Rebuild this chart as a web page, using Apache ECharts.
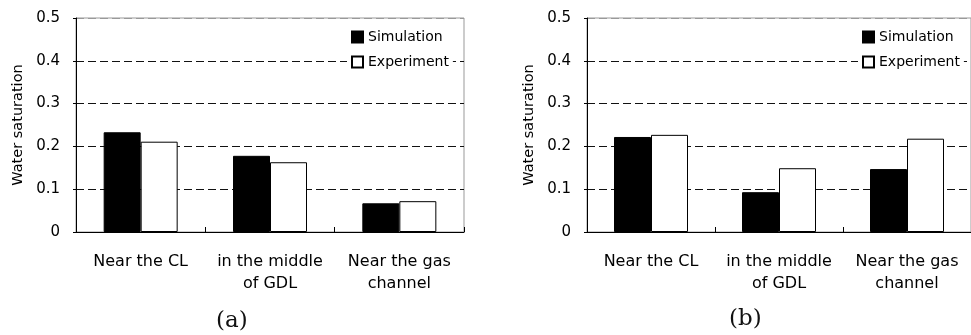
<!DOCTYPE html>
<html>
<head>
<meta charset="utf-8">
<script src="https://cdn.jsdelivr.net/npm/echarts@6/dist/echarts.min.js"></script>
<style>html,body{margin:0;padding:0;background:#fff;}#c{width:971px;height:335px;}</style>
</head>
<body>
<div id="c"></div>
<script>
const categories = ['Near the CL', 'in the middle\nof GDL', 'Near the gas\nchannel'];
const simulationA = [0.233, 0.178, 0.067];
const experimentA = [0.211, 0.163, 0.072];
const simulationB = [0.222, 0.093, 0.147];
const experimentB = [0.227, 0.149, 0.218];
const yTicks = [0, 0.1, 0.2, 0.3, 0.4, 0.5];
const captions = ['(a)', '(b)'];

const chart = echarts.init(document.getElementById('c'), null, {renderer: 'canvas'});
const FONT = 'DejaVu Sans';
const grids = [
  {left: 76, top: 18, width: 388, height: 214},
  {left: 587, top: 18, width: 389, height: 214}
];
function xAxis(i) {
  return {
    type: 'category', gridIndex: i, data: categories,
    axisLine: {lineStyle: {color: '#000', width: 1}},
    axisTick: {show: true, inside: true, length: 5, alignWithLabel: false, lineStyle: {color: '#000'}},
    axisLabel: {fontFamily: FONT, fontSize: 16, color: '#000', lineHeight: 22, margin: 19, interval: 0}
  };
}
function yAxis(i) {
  return {
    type: 'value', gridIndex: i, min: 0, max: 0.5, interval: 0.1,
    name: 'Water saturation', nameLocation: 'middle', nameGap: 50,
    nameTextStyle: {fontFamily: FONT, fontSize: 14.5, color: '#000'},
    axisLine: {show: true, lineStyle: {color: '#000', width: 1}},
    axisTick: {show: true, length: 3, lineStyle: {color: '#000'}},
    axisLabel: {fontFamily: FONT, fontSize: 15, color: '#000', margin: 16,
      formatter: v => { const t = yTicks.find(x => Math.abs(x - v) < 1e-9); return t === 0 ? '0' : t.toFixed(1); }},
    splitLine: {show: true, lineStyle: {color: ['#000', '#111', '#111', '#111', '#111', '#999'], type: [8, 4], width: 1}}
  };
}
function legend(left) {
  return {
    orient: 'vertical', left: left, top: 26, padding: 4,
    backgroundColor: '#fff', itemWidth: 11, itemHeight: 11, itemGap: 11, itemTextGap: 6,
    icon: 'rect',
    textStyle: {fontFamily: FONT, fontSize: 14, color: '#000', lineHeight: 14},
    data: ['Simulation', 'Experiment']
  };
}
function bars(i, sim, exp) {
  return [
    {name: 'Simulation', type: 'bar', xAxisIndex: i, yAxisIndex: i, data: sim, barWidth: 37, barGap: '0%',
     itemStyle: {color: '#000', borderColor: '#000', borderWidth: 1}, z: 3},
    {name: 'Experiment', type: 'bar', xAxisIndex: i, yAxisIndex: i, data: exp, barWidth: 37, barGap: '0%',
     itemStyle: {color: '#fff', borderColor: '#000', borderWidth: 1}, z: 3}
  ];
}
chart.setOption({
  animation: false,
  backgroundColor: '#fff',
  grid: grids.map(g => Object.assign({show: true, borderColor: '#999', borderWidth: 1, backgroundColor: 'transparent'}, g)),
  xAxis: [xAxis(0), xAxis(1)],
  yAxis: [yAxis(0), yAxis(1)],
  legend: [legend(347), legend(858)],
  series: [...bars(0, simulationA, experimentA), ...bars(1, simulationB, experimentB)],
  graphic: [
    {type: 'text', left: 216, top: 310, style: {text: captions[0], font: '23px "DejaVu Serif"', fill: '#111'}},
    {type: 'text', left: 729, top: 308, style: {text: captions[1], font: '23px "DejaVu Serif"', fill: '#111'}}
  ]
});
</script>
</body>
</html>
